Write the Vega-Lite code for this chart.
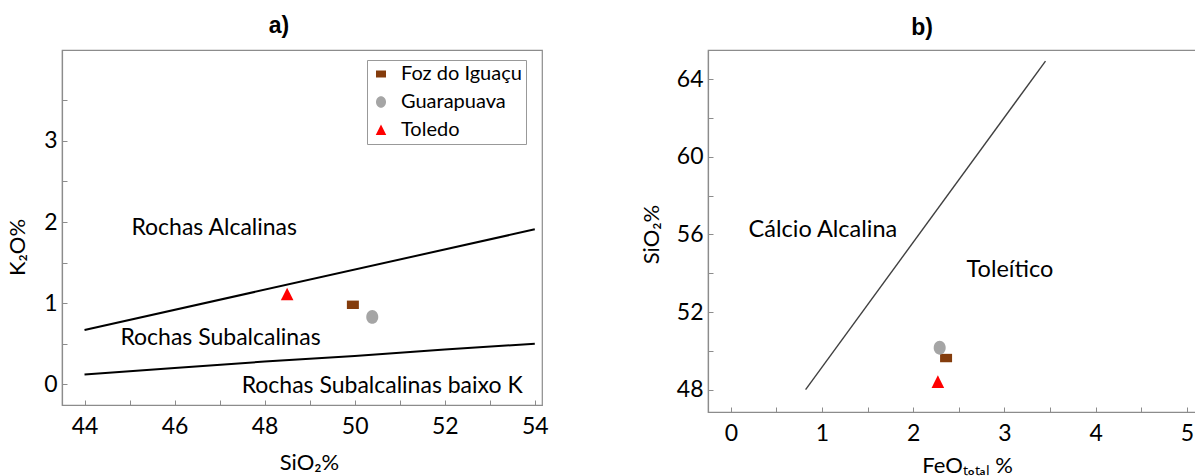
{
  "$schema": "https://vega.github.io/schema/vega-lite/v6.json",
  "padding": {"left": 5, "top": 14, "right": 0, "bottom": 0},
  "background": "white",
  "config": {
    "font": "Lato",
    "view": {"stroke": "#8c8c8c", "strokeWidth": 1.2},
    "axis": {
      "grid": false,
      "domainColor": "#8c8c8c",
      "domainWidth": 1.2,
      "tickColor": "#8c8c8c",
      "tickSize": -5,
      "labelFont": "Lato",
      "labelFontSize": 23,
      "labelColor": "black",
      "labelPadding": 15,
      "titleFont": "Lato",
      "titleFontSize": 22,
      "titleFontWeight": "normal",
      "titleColor": "black"
    },
    "title": {"font": "Liberation Sans", "fontSize": 23, "fontWeight": "bold", "color": "black"}
  },
  "spacing": 90,
  "resolve": {
    "scale": {"color": "independent", "shape": "independent"},
    "legend": {"color": "independent", "shape": "independent"}
  },
  "hconcat": [
    {
      "width": 480,
      "height": 355,
      "title": {"text": "a)", "dx": -23, "offset": 12},
      "layer": [
        {
          "data": {"values": [
            {"x": 44, "y": 0.67, "line": "upper"},
            {"x": 54, "y": 1.91, "line": "upper"},
            {"x": 44, "y": 0.12, "line": "lower"},
            {"x": 46, "y": 0.2, "line": "lower"},
            {"x": 48, "y": 0.28, "line": "lower"},
            {"x": 50, "y": 0.35, "line": "lower"},
            {"x": 52, "y": 0.43, "line": "lower"},
            {"x": 54, "y": 0.5, "line": "lower"}
          ]},
          "mark": {"type": "line", "color": "black", "strokeWidth": 2},
          "encoding": {
            "x": {"field": "x", "type": "quantitative",
              "scale": {"domain": [43.5, 54.16], "nice": false, "zero": false},
              "axis": {"values": [44, 45, 46, 47, 48, 49, 50, 51, 52, 53, 54],
                "labelExpr": "datum.value % 2 === 0 ? format(datum.value, 'd') : ''",
                "title": "SiO₂%", "titleX": 247, "titleY": 64, "titleBaseline": "alphabetic", "titleAlign": "center"}},
            "y": {"field": "y", "type": "quantitative",
              "scale": {"domain": [-0.255, 4.12], "nice": false, "zero": false},
              "axis": {"values": [0, 0.5, 1, 1.5, 2, 2.5, 3, 3.5],
                "labelExpr": "datum.value % 1 === 0 ? format(datum.value, 'd') : ''",
                "labelPadding": 10,
                "title": "K₂O%", "titleX": -45, "titleY": 197, "titleAngle": 270, "titleBaseline": "middle", "titleAlign": "center"}},
            "detail": {"field": "line"}
          }
        },
        {
          "data": {"values": [
            {"x": 46.88, "y": 1.93, "label": "Rochas Alcalinas"},
            {"x": 47.02, "y": 0.57, "label": "Rochas Subalcalinas"},
            {"x": 50.61, "y": -0.02, "label": "Rochas Subalcalinas baixo K"}
          ]},
          "mark": {"type": "text", "font": "Lato", "fontSize": 23, "color": "black", "baseline": "middle"},
          "encoding": {
            "x": {"field": "x", "type": "quantitative"},
            "y": {"field": "y", "type": "quantitative"},
            "text": {"field": "label"}
          }
        },
        {
          "data": {"values": [
            {"x": 49.96, "y": 0.98, "loc": "Foz do Iguaçu"},
            {"x": 50.39, "y": 0.83, "loc": "Guarapuava"},
            {"x": 48.5, "y": 1.11, "loc": "Toledo"}
          ]},
          "mark": {"type": "point", "filled": true, "opacity": 1, "size": 144},
          "encoding": {
            "x": {"field": "x", "type": "quantitative"},
            "y": {"field": "y", "type": "quantitative"},
            "color": {"field": "loc", "type": "nominal",
              "scale": {"domain": ["Foz do Iguaçu", "Guarapuava", "Toledo"], "range": ["#843C0C", "#A5A5A5", "#FF0000"]},
              "legend": {"orient": "none", "legendX": 305, "legendY": 10, "title": null, "labelFont": "Lato", "labelFontSize": 20, "labelColor": "black", "strokeColor": "#999999", "fillColor": "white", "padding": 4, "rowPadding": 8, "symbolSize": 100, "labelOffset": 10}},
            "shape": {"field": "loc", "type": "nominal",
              "scale": {"domain": ["Foz do Iguaçu", "Guarapuava", "Toledo"], "range": ["M-1,-0.7H1V0.7H-1Z", "M0,-1.15A1,1.15 0 1 1 0,1.15A1,1.15 0 1 1 0,-1.15Z", "M0,-1.1L1.05,1L-1.05,1Z"]},
              "legend": {"orient": "none", "legendX": 305, "legendY": 10, "title": null, "labelFont": "Lato", "labelFontSize": 20, "labelColor": "black", "strokeColor": "#999999", "fillColor": "white", "padding": 4, "rowPadding": 8, "symbolSize": 100, "labelOffset": 10}}
          }
        }
      ]
    },
    {
      "width": 488,
      "height": 362,
      "title": {"text": "b)", "dx": -30, "offset": 10},
      "layer": [
        {
          "data": {"values": [
            {"x": 0.82, "y": 48},
            {"x": 3.45, "y": 64.93}
          ]},
          "mark": {"type": "line", "color": "#404040", "strokeWidth": 1.4},
          "encoding": {
            "x": {"field": "x", "type": "quantitative",
              "scale": {"domain": [-0.25, 5.1], "nice": false, "zero": false},
              "axis": {"values": [0, 0.25, 0.5, 0.75, 1, 1.25, 1.5, 1.75, 2, 2.25, 2.5, 2.75, 3, 3.25, 3.5, 3.75, 4, 4.25, 4.5, 4.75, 5],
                "labelExpr": "datum.value % 1 === 0 ? format(datum.value, 'd') : ''",
                "title": "FeOₜₒₜₐₗ %", "titleX": 259, "titleY": 60, "titleBaseline": "alphabetic", "titleAlign": "center"}},
            "y": {"field": "y", "type": "quantitative",
              "scale": {"domain": [46.85, 65.5], "nice": false, "zero": false},
              "axis": {"values": [48, 49, 50, 51, 52, 53, 54, 55, 56, 57, 58, 59, 60, 61, 62, 63, 64, 65],
                "labelExpr": "datum.value % 4 === 0 ? format(datum.value, 'd') : ''",
                "labelPadding": 10,
                "title": "SiO₂%", "titleX": -57, "titleY": 184, "titleAngle": 270, "titleBaseline": "middle", "titleAlign": "center"}}
          }
        },
        {
          "data": {"values": [
            {"x": 1.01, "y": 56.25, "label": "Cálcio Alcalina"},
            {"x": 3.06, "y": 54.14, "label": "Toleítico"}
          ]},
          "mark": {"type": "text", "font": "Lato", "fontSize": 23.5, "color": "black", "baseline": "middle"},
          "encoding": {
            "x": {"field": "x", "type": "quantitative"},
            "y": {"field": "y", "type": "quantitative"},
            "text": {"field": "label"}
          }
        },
        {
          "data": {"values": [
            {"x": 2.36, "y": 49.63, "loc": "Foz do Iguaçu"},
            {"x": 2.29, "y": 50.16, "loc": "Guarapuava"},
            {"x": 2.27, "y": 48.4, "loc": "Toledo"}
          ]},
          "mark": {"type": "point", "filled": true, "opacity": 1, "size": 144},
          "encoding": {
            "x": {"field": "x", "type": "quantitative"},
            "y": {"field": "y", "type": "quantitative"},
            "color": {"field": "loc", "type": "nominal",
              "scale": {"domain": ["Foz do Iguaçu", "Guarapuava", "Toledo"], "range": ["#843C0C", "#A5A5A5", "#FF0000"]},
              "legend": null},
            "shape": {"field": "loc", "type": "nominal",
              "scale": {"domain": ["Foz do Iguaçu", "Guarapuava", "Toledo"], "range": ["M-1,-0.7H1V0.7H-1Z", "M0,-1.15A1,1.15 0 1 1 0,1.15A1,1.15 0 1 1 0,-1.15Z", "M0,-1.1L1.05,1L-1.05,1Z"]},
              "legend": null}
          }
        }
      ]
    }
  ]
}
